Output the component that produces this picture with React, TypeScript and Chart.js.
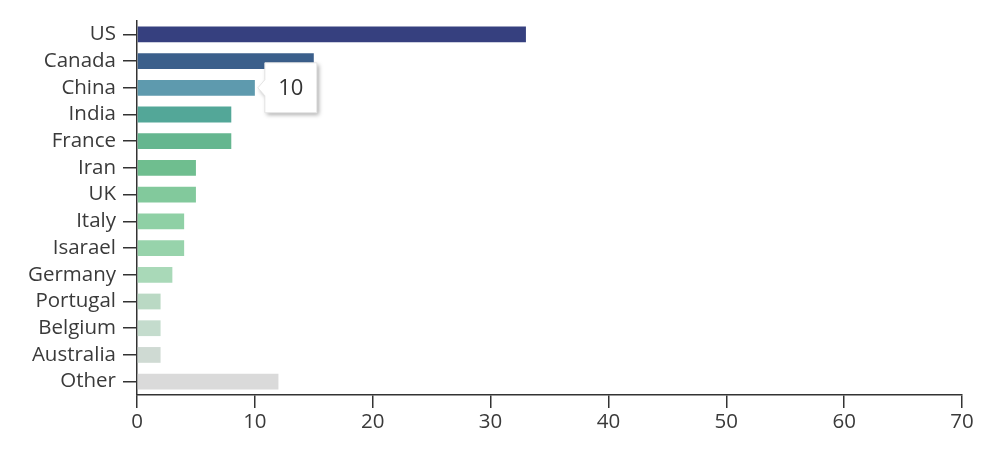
import React, { useEffect, useRef } from "react";
import { Chart, registerables } from "chart.js";

Chart.register(...registerables);

const categories = ["US", "Canada", "China", "India", "France", "Iran", "UK", "Italy", "Isarael", "Germany", "Portugal", "Belgium", "Australia", "Other"];
const values = [33, 15, 10, 8, 8, 5, 5, 4, 4, 3, 2, 2, 2, 12];
const barColors = ["#36407f", "#3b5f8b", "#5e9aae", "#53a798", "#65b68f", "#6fbe8f", "#82c99c", "#8fd0a5", "#97d3ab", "#a9d9b8", "#bad9c4", "#c4dccd", "#cfdad3", "#dadada"];
const xTicks = [0, 10, 20, 30, 40, 50, 60, 70];
const tooltipIndex = 2;

const FONT = "'Open Sans', 'Noto Sans', sans-serif";

const tooltipPlugin = {
  id: "staticTooltip",
  afterDatasetsDraw(chart: any) {
    const meta = chart.getDatasetMeta(0);
    const el = meta.data[tooltipIndex];
    if (!el) return;
    const ctx = chart.ctx as CanvasRenderingContext2D;
    const tipX = el.x + 3;
    const cy = el.y;
    const left = el.x + 10;
    const w = 52;
    const h = 50;
    const top = cy - h / 2;
    ctx.save();
    ctx.beginPath();
    ctx.moveTo(left, top);
    ctx.lineTo(left + w, top);
    ctx.lineTo(left + w, top + h);
    ctx.lineTo(left, top + h);
    ctx.lineTo(left, cy + 8);
    ctx.lineTo(tipX, cy);
    ctx.lineTo(left, cy - 8);
    ctx.closePath();
    ctx.shadowColor = "rgba(0,0,0,0.35)";
    ctx.shadowBlur = 4;
    ctx.shadowOffsetX = 2;
    ctx.shadowOffsetY = 2;
    ctx.fillStyle = "#ffffff";
    ctx.fill();
    ctx.shadowColor = "transparent";
    ctx.strokeStyle = "#e4e4e4";
    ctx.lineWidth = 1;
    ctx.stroke();
    ctx.fillStyle = "#333333";
    ctx.font = `22px ${FONT}`;
    ctx.textAlign = "center";
    ctx.textBaseline = "middle";
    ctx.fillText(String(values[tooltipIndex]), left + w / 2, cy + 1);
    ctx.restore();
  },
};

export default function App() {
  const ref = useRef<HTMLCanvasElement | null>(null);
  useEffect(() => {
    if (!ref.current) return;
    const chart = new Chart(ref.current, {
      type: "bar",
      data: {
        labels: categories,
        datasets: [
          {
            data: values,
            backgroundColor: barColors,
            barPercentage: 0.59,
            categoryPercentage: 1,
          },
        ],
      },
      options: {
        indexAxis: "y",
        animation: false,
        responsive: true,
        maintainAspectRatio: false,
        layout: { padding: { left: 0, top: 21, right: 38, bottom: 0 } },
        plugins: { legend: { display: false }, tooltip: { enabled: false } },
        scales: {
          x: {
            min: 0,
            max: 70,
            afterBuildTicks: (scale: any) => {
              scale.ticks = xTicks.map((v) => ({ value: v }));
            },
            afterFit: (scale: any) => {
              scale.height = 65;
            },
            grid: { drawOnChartArea: false, drawTicks: true, tickLength: 13, color: "#333", lineWidth: 1.5 },
            border: { display: true, color: "#333", width: 1.5 },
            ticks: { color: "#3a3a3a", font: { family: FONT, size: 20.5 }, padding: 2 },
          },
          y: {
            afterFit: (scale: any) => {
              scale.width = 137;
            },
            grid: { offset: false, drawOnChartArea: false, drawTicks: true, tickLength: 14, color: "#333", lineWidth: 1.5 },
            border: { display: true, color: "#333", width: 1.5 },
            ticks: { autoSkip: false, color: "#3a3a3a", font: { family: FONT, size: 20.5 }, padding: 7 },
          },
        },
      },
      plugins: [tooltipPlugin],
    });
    return () => chart.destroy();
  }, []);
  return (
    <div style={{ position: "fixed", left: 0, top: 0, width: 1000, height: 460, background: "#fff" }}>
      <canvas ref={ref} />
    </div>
  );
}
